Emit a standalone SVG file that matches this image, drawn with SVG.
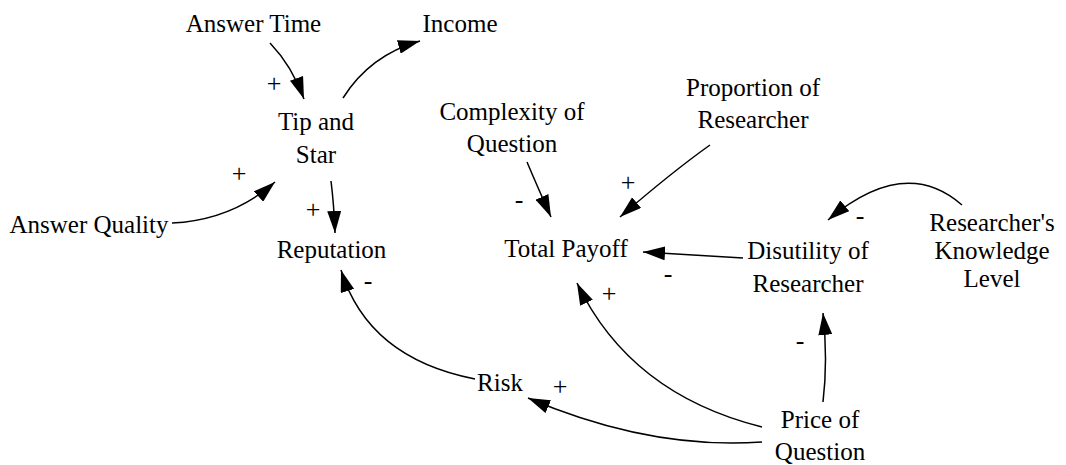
<svg xmlns="http://www.w3.org/2000/svg" width="1066" height="465" viewBox="0 0 1066 465">
<style>
.t{font-family:"Liberation Serif","Times New Roman",serif;font-size:25px;fill:#000;text-anchor:middle}
.p{font-family:"Liberation Serif","Times New Roman",serif;font-size:26px;fill:#000;text-anchor:middle}
.c{fill:none;stroke:#000;stroke-width:1.5;marker-end:url(#ah)}
</style>
<defs>
<marker id="ah" markerUnits="userSpaceOnUse" markerWidth="22" markerHeight="14" refX="22" refY="7" orient="auto">
<path d="M0,0 L22,7 L0,14 z" fill="#000"/>
</marker>
</defs>
<rect width="1066" height="465" fill="#fff"/>
<g id="connectors">
<path class="c" d="M270,43 Q292,66 304,99"/>
<path class="c" d="M343,98 Q370,55 420,41"/>
<path class="c" d="M172,223 Q232,220 275,182"/>
<path class="c" d="M331,181 Q334,205 335,233"/>
<path class="c" d="M475,379 Q368,358 341,270"/>
<path class="c" d="M762,442 Q650,450 528,398"/>
<path class="c" d="M762,427 Q630,394 577,283"/>
<path class="c" d="M823,402 Q828,360 823,313"/>
<path class="c" d="M743,258 L643,252"/>
<path class="c" d="M962,205 Q905,155 828,220"/>
<path class="c" d="M527,162 Q538,188 551,217"/>
<path class="c" d="M710,145 Q672,172 620,217"/>
<text class="p" x="274" y="92">+</text>
<text class="p" x="239" y="182">+</text>
<text class="p" x="313" y="218">+</text>
<text class="p" x="368" y="289">-</text>
<text class="p" x="519" y="208">-</text>
<text class="p" x="628" y="191">+</text>
<text class="p" x="668" y="282">-</text>
<text class="p" x="609" y="302">+</text>
<text class="p" x="560" y="395">+</text>
<text class="p" x="800" y="349">-</text>
<text class="p" x="860" y="224">-</text>
</g>
<g id="n_answer_time"><text class="t" x="253.5" y="32">Answer Time</text></g>
<g id="n_income"><text class="t" x="460" y="32">Income</text></g>
<g id="n_tip_and_star"><text class="t" x="316" y="130">Tip and</text><text class="t" x="316" y="163">Star</text></g>
<g id="n_answer_quality"><text class="t" x="89" y="233">Answer Quality</text></g>
<g id="n_reputation"><text class="t" x="331.5" y="258">Reputation</text></g>
<g id="n_complexity"><text class="t" x="512" y="120">Complexity of</text><text class="t" x="512" y="152">Question</text></g>
<g id="n_proportion"><text class="t" x="753" y="96">Proportion of</text><text class="t" x="753" y="128">Researcher</text></g>
<g id="n_total_payoff"><text class="t" x="566" y="257">Total Payoff</text></g>
<g id="n_disutility"><text class="t" x="808" y="259">Disutility of</text><text class="t" x="808" y="292">Researcher</text></g>
<g id="n_knowledge"><text class="t" x="992" y="231">Researcher's</text><text class="t" x="992" y="259">Knowledge</text><text class="t" x="992" y="287">Level</text></g>
<g id="n_risk"><text class="t" x="500" y="391">Risk</text></g>
<g id="n_price"><text class="t" x="820" y="428">Price of</text><text class="t" x="820" y="460">Question</text></g>
</svg>
